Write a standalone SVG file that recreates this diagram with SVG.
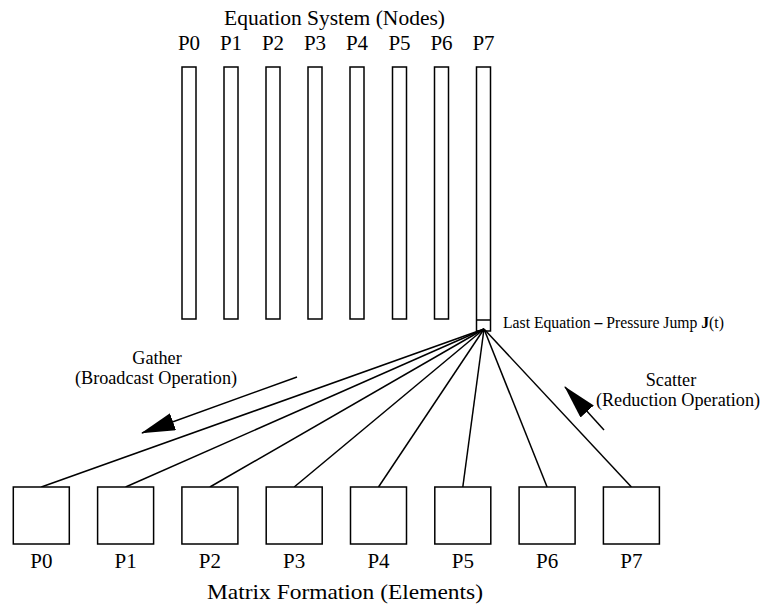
<svg xmlns="http://www.w3.org/2000/svg" width="765" height="605" viewBox="0 0 765 605">
<style>
.t{font-family:"Liberation Serif","Times New Roman",serif;fill:#000}
.c{text-anchor:middle}
.col{fill:#fff;stroke:#000;stroke-width:1.5}
.box{fill:#fff;stroke:#000;stroke-width:1.5}
.ln{stroke:#000;stroke-width:1.5;fill:none}
</style>
<defs>
<marker id="ah" markerUnits="userSpaceOnUse" markerWidth="36" markerHeight="22" refX="33" refY="9" orient="auto">
<path d="M0,0 L34,9 L0,18 Z" fill="#000"/>
</marker>
</defs>
<rect width="765" height="605" fill="#fff"/>
<text class="t c" x="334.5" y="25" font-size="21.5">Equation System (Nodes)</text>
<g id="eq-p0"><text class="t c" x="189" y="50" font-size="21">P0</text><rect class="col" x="182" y="67" width="14" height="252"/></g>
<g id="eq-p1"><text class="t c" x="231" y="50" font-size="21">P1</text><rect class="col" x="224" y="67" width="14" height="252"/></g>
<g id="eq-p2"><text class="t c" x="273" y="50" font-size="21">P2</text><rect class="col" x="266" y="67" width="14" height="252"/></g>
<g id="eq-p3"><text class="t c" x="315" y="50" font-size="21">P3</text><rect class="col" x="308" y="67" width="14" height="252"/></g>
<g id="eq-p4"><text class="t c" x="357" y="50" font-size="21">P4</text><rect class="col" x="350" y="67" width="14" height="252"/></g>
<g id="eq-p5"><text class="t c" x="399.5" y="50" font-size="21">P5</text><rect class="col" x="392.5" y="67" width="14" height="252"/></g>
<g id="eq-p6"><text class="t c" x="441.5" y="50" font-size="21">P6</text><rect class="col" x="434.5" y="67" width="14" height="252"/></g>
<g id="eq-p7"><text class="t c" x="483.5" y="50" font-size="21">P7</text><rect class="col" x="476.5" y="67" width="14" height="264"/><line class="ln" x1="476.5" y1="320" x2="490.5" y2="320"/>
<text class="t" x="503" y="328" font-size="15.7">Last Equation <tspan font-weight="bold">–</tspan> Pressure Jump <tspan font-weight="bold">J</tspan>(t)</text></g>
<g id="connectors">
<line class="ln" x1="484" y1="329" x2="41.3" y2="487"/>
<line class="ln" x1="484" y1="329" x2="125.6" y2="487"/>
<line class="ln" x1="484" y1="329" x2="209.9" y2="487"/>
<line class="ln" x1="484" y1="329" x2="294.2" y2="487"/>
<line class="ln" x1="484" y1="329" x2="378.5" y2="487"/>
<line class="ln" x1="484" y1="329" x2="462.8" y2="487"/>
<line class="ln" x1="484" y1="329" x2="547.1" y2="487"/>
<line class="ln" x1="484" y1="329" x2="631.4" y2="487"/>
<line class="ln" x1="297" y1="377" x2="142" y2="433" marker-end="url(#ah)"/>
<line class="ln" x1="604" y1="430" x2="565" y2="387" marker-end="url(#ah)"/>
</g>
<g id="gather-label"><text class="t c" x="157" y="364" font-size="18.2">Gather</text><text class="t c" x="156" y="384" font-size="18.2">(Broadcast Operation)</text></g>
<g id="scatter-label"><text class="t c" x="671" y="386" font-size="18.2">Scatter</text><text class="t c" x="678" y="406" font-size="18.2">(Reduction Operation)</text></g>
<g id="el-p0"><rect class="box" x="13.3" y="487" width="56" height="57"/><text class="t c" x="41.3" y="568" font-size="21">P0</text></g>
<g id="el-p1"><rect class="box" x="97.6" y="487" width="56" height="57"/><text class="t c" x="125.6" y="568" font-size="21">P1</text></g>
<g id="el-p2"><rect class="box" x="181.9" y="487" width="56" height="57"/><text class="t c" x="209.9" y="568" font-size="21">P2</text></g>
<g id="el-p3"><rect class="box" x="266.2" y="487" width="56" height="57"/><text class="t c" x="294.2" y="568" font-size="21">P3</text></g>
<g id="el-p4"><rect class="box" x="350.5" y="487" width="56" height="57"/><text class="t c" x="378.5" y="568" font-size="21">P4</text></g>
<g id="el-p5"><rect class="box" x="434.8" y="487" width="56" height="57"/><text class="t c" x="462.8" y="568" font-size="21">P5</text></g>
<g id="el-p6"><rect class="box" x="519.1" y="487" width="56" height="57"/><text class="t c" x="547.1" y="568" font-size="21">P6</text></g>
<g id="el-p7"><rect class="box" x="603.4" y="487" width="56" height="57"/><text class="t c" x="631.4" y="568" font-size="21">P7</text></g>
<text class="t c" x="345" y="599" font-size="21" textLength="276" lengthAdjust="spacingAndGlyphs">Matrix Formation (Elements)</text>
</svg>
